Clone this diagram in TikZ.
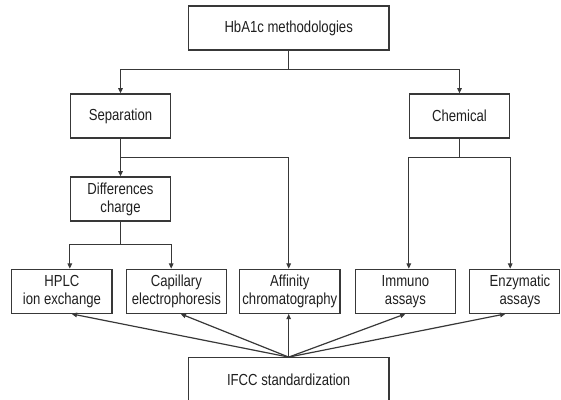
\documentclass[tikz,border=0pt]{standalone}
\usepackage{fontspec}
\setmainfont{Liberation Sans}[FakeStretch=0.82]
\usetikzlibrary{arrows.meta}
\begin{document}
\begin{tikzpicture}[x=0.75pt,y=-0.75pt,
  txt/.style={align=center, text=black!88, inner sep=0pt, font=\fontsize{12pt}{13.3pt}\selectfont},
  box/.style={txt, draw=black!78, line width=0.9pt, minimum height=33pt},
  wide/.style={box, minimum width=150.3pt},
  std/.style={box, minimum width=75.15pt},
  link/.style={draw=black!78, line width=0.9pt},
  arr/.style={link, -{Triangle[length=4pt,width=3.4pt]}}]
\useasboundingbox (0,0) rectangle (561,400);

\node[wide] (top) at (288.7,28) {HbA1c methodologies};
\node[std] (sep) at (120.5,116) {Separation};
\node[std] (chem) at (459.5,116) {Chemical};
\node[std] (diff) at (120.5,199) {Differences\\charge};
\node[std] (hplc) at (61.9,291.3) {HPLC\\ion exchange};
\node[std] (cap) at (176.4,291.3) {Capillary\\electrophoresis};
\node[std] (aff) at (289.8,291.3) {Affinity\\chromatography};
\node[std] (imm) at (405.4,291.3) {Immuno\\assays};
\node[box, minimum width=67.3pt] (enz) at (514.65,291.3) {};
\node[txt] (enzt) at (520,291.3) {Enzymatic\\assays};
\node[wide] (ifcc) at (288.7,379.7) {IFCC standardization};

\coordinate (j1) at (288.7,69.5);
\coordinate (j2) at (120.5,157.7);
\coordinate (j3) at (459.5,157.7);
\coordinate (j4) at (120.5,244.3);

\draw[link] (top.south) -- (j1);
\draw[arr] (j1) -| (sep.north);
\draw[arr] (j1) -| (chem.north);

\draw[link] (sep.south) -- (j2);
\draw[arr] (j2) -- (diff.north);
\draw[arr] (j2) -| (aff.north -| top.south);

\draw[link] (chem.south) -- (j3);
\draw[arr] (j3) -| (chem.west |- imm.north);
\draw[arr] (j3) -| (chem.east |- enz.north);

\draw[link] (diff.south) -- (j4);
\draw[arr] (j4) -| (diff.west |- hplc.north);
\draw[arr] (j4) -| (diff.east |- cap.north);

\draw[arr] (ifcc.north) -- ([xshift=7.3pt]hplc.south);
\draw[arr] (ifcc.north) -- ([xshift=3.2pt]cap.south);
\draw[arr] (ifcc.north) -- (aff.south -| ifcc.north);
\draw[arr] (ifcc.north) -- (imm.south);
\draw[arr] (ifcc.north) -- ([xshift=-6.9pt]enz.south);
\end{tikzpicture}
\end{document}
